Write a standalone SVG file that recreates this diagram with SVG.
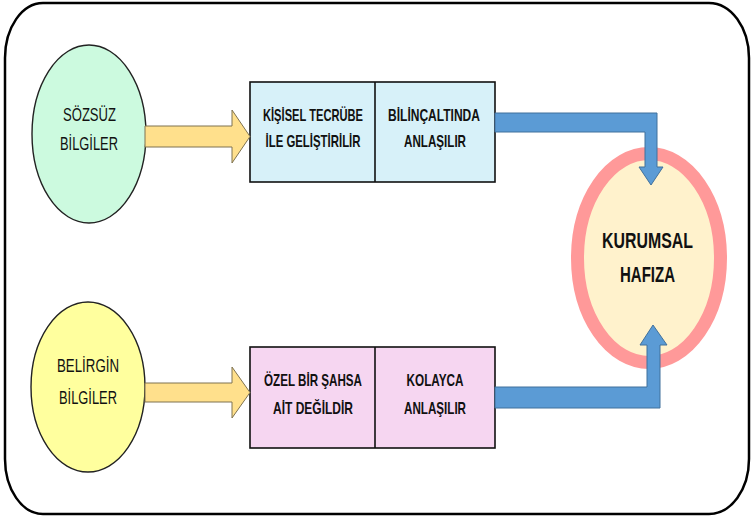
<svg xmlns="http://www.w3.org/2000/svg" width="752" height="519" viewBox="0 0 752 519">
<style>
.t{font-family:"Liberation Sans",Arial,sans-serif;fill:#111;text-anchor:middle}
.e{font-size:18px}
.b{font-size:16px;font-weight:bold}
.k{font-size:22px;font-weight:bold}
.ya{fill:#FFE08C;stroke:#7f7350;stroke-width:1}
.ba{fill:#5B9BD5;stroke:#41719C;stroke-width:1}
.box{stroke:#111;stroke-width:1.6}
</style>
<rect width="752" height="519" fill="#fff"/>
<path id="frame" d="M43 3 H709 A40 55 0 0 1 749 58 V459 A40 55 0 0 1 709 514 H43 A38 55 0 0 1 5 459 V58 A38 55 0 0 1 43 3 Z" fill="none" stroke="#000" stroke-width="2.5"/>
<g id="sozsuz">
<ellipse cx="89" cy="134" rx="57" ry="89" fill="#CCFADF" stroke="#222" stroke-width="1.4"/>
<text class="t e" transform="translate(89.5 120.5) scale(0.72 1)" textLength="73.6" lengthAdjust="spacingAndGlyphs">SÖZSÜZ</text>
<text class="t e" transform="translate(89 150) scale(0.72 1)" textLength="80.6" lengthAdjust="spacingAndGlyphs">BİLGİLER</text>
</g>
<g id="belirgin">
<ellipse cx="88" cy="387" rx="57" ry="85" fill="#FFFF9E" stroke="#222" stroke-width="1.4"/>
<text class="t e" transform="translate(88 371.5) scale(0.72 1)" textLength="86.1" lengthAdjust="spacingAndGlyphs">BELİRGİN</text>
<text class="t e" transform="translate(88 403.5) scale(0.72 1)" textLength="80.6" lengthAdjust="spacingAndGlyphs">BİLGİLER</text>
</g>
<g id="box-top">
<rect class="box" x="250" y="82" width="245" height="100" fill="#D7F1F9"/>
<line x1="375" y1="82" x2="375" y2="182" stroke="#111" stroke-width="1.6"/>
<text class="t b" transform="translate(313 120.5) scale(0.69 1)" textLength="145" lengthAdjust="spacingAndGlyphs">KİŞİSEL TECRÜBE</text>
<text class="t b" transform="translate(313 147) scale(0.69 1)" textLength="137.7" lengthAdjust="spacingAndGlyphs">İLE GELİŞTİRİLİR</text>
<text class="t b" transform="translate(434 120.5) scale(0.69 1)" textLength="133.3" lengthAdjust="spacingAndGlyphs">BİLİNÇALTINDA</text>
<text class="t b" transform="translate(435 147) scale(0.69 1)" textLength="89.9" lengthAdjust="spacingAndGlyphs">ANLAŞILIR</text>
</g>
<g id="box-bottom">
<rect class="box" x="250" y="347" width="245" height="101" fill="#F6D6F1"/>
<line x1="375" y1="347" x2="375" y2="448" stroke="#111" stroke-width="1.6"/>
<text class="t b" transform="translate(313 386) scale(0.69 1)" textLength="142" lengthAdjust="spacingAndGlyphs">ÖZEL BİR ŞAHSA</text>
<text class="t b" transform="translate(313 413.5) scale(0.69 1)" textLength="116" lengthAdjust="spacingAndGlyphs">AİT DEĞİLDİR</text>
<text class="t b" transform="translate(435 386) scale(0.69 1)" textLength="82.6" lengthAdjust="spacingAndGlyphs">KOLAYCA</text>
<text class="t b" transform="translate(435 413.5) scale(0.69 1)" textLength="89.9" lengthAdjust="spacingAndGlyphs">ANLAŞILIR</text>
</g>
<g id="kurumsal">
<ellipse cx="649" cy="258" rx="71.5" ry="104.5" fill="#FFF2CC" stroke="#FF9999" stroke-width="13"/>
<text class="t k" transform="translate(647.5 247.7) scale(0.7 1)" textLength="130" lengthAdjust="spacingAndGlyphs">KURUMSAL</text>
<text class="t k" transform="translate(647.5 281.7) scale(0.7 1)" textLength="78.6" lengthAdjust="spacingAndGlyphs">HAFIZA</text>
</g>
<g id="connectors">
<path class="ya" d="M145 126 H232 V110 L250 136.5 L232 163 V147 H145 Z"/>
<path class="ya" d="M145 383 H232 V367 L250 392.5 L232 418 V402 H145 Z"/>
<path class="ba" d="M495 113 H657 V167 H663 L651 185 L639 167 H645 V132 H495 Z"/>
<path class="ba" d="M495 408 H660 V345 H667 L653 325 L640 345 H647 V387 H495 Z"/>
</g>
</svg>
